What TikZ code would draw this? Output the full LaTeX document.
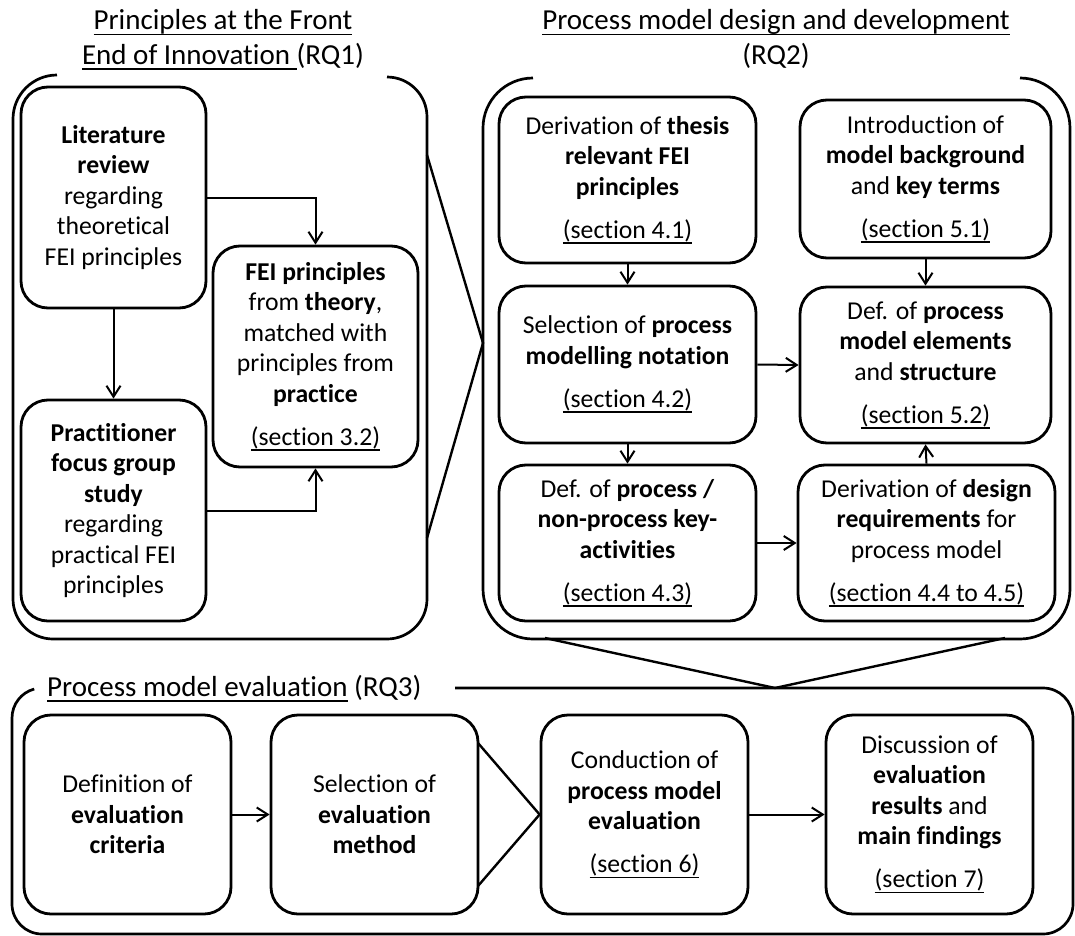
\documentclass[tikz,border=0pt]{standalone}
\usepackage{fontspec}
\setmainfont{Carlito}[Ligatures=NoCommon]
\usetikzlibrary{arrows.meta}
\newsavebox{\ulbox}
% underline drawn as a rule just below the baseline
\newcommand{\uln}[1]{\leavevmode\sbox{\ulbox}{#1}%
  \rlap{\raisebox{-5.5bp}{\rule{\wd\ulbox}{1.5bp}}}\usebox{\ulbox}}
\newcommand{\bxfont}{\fontsize{25.7bp}{30.5bp}\selectfont}
\newcommand{\ttlfont}{\fontsize{29bp}{34.5bp}\selectfont}
\newcommand{\secgap}{\\[12.5bp]}

\begin{document}
\begin{tikzpicture}[x=1bp,y=-1bp,
  box/.style={draw, line width=2.8bp, rounded corners=27bp, align=center,
    inner sep=0pt, font=\bxfont},
  ttl/.style={align=center, inner sep=0pt, font=\ttlfont},
  frame/.style={line width=2.7bp},
  zoomline/.style={line width=2.4bp, line join=miter},
  arr/.style={line width=2bp, -{Straight Barb[length=11bp,width=14bp]}}]

\useasboundingbox (0,0) rectangle (1075,936);

% ---------- RQ1: principles ----------
\node[ttl, anchor=base] (t1) at (223,64)
  {\uln{Principles at the Front}\\\uln{End of Innovation\ }(RQ1)};
\draw[frame] (57,75) arc[start angle=90,end angle=180,radius=44bp]
  -- (13,599) arc[start angle=180,end angle=270,radius=40bp]
  -- (387,639) arc[start angle=270,end angle=360,radius=40bp]
  -- (427,117) arc[start angle=0,end angle=90,radius=40bp];

\node[box, minimum width=185bp, minimum height=221bp] (lit) at (113.5,197.5)
  {\textbf{Literature}\\\textbf{review}\\regarding\\theoretical\\FEI principles};
\node[box, minimum width=205bp, minimum height=221bp] (fei) at (315.5,356.5)
  {\textbf{FEI principles}\\from \textbf{theory},\\matched with\\principles from\\\textbf{practice}\secgap\uln{(section 3.2)}};
\node[box, minimum width=185bp, minimum height=221bp] (prac) at (113.5,510.5)
  {\textbf{Practitioner}\\\textbf{focus group}\\\textbf{study}\\regarding\\practical FEI\\principles};

\draw[arr] (lit.east) -| (fei.north);
\draw[arr] (prac.east) -| (fei.south);
\draw[arr] (lit.south) -- (prac.north);

% ---------- RQ2: design and development ----------
\node[ttl, anchor=base] (t2) at (776,64)
  {\uln{Process model design and development}\\(RQ2)};
\draw[frame] (533,78) arc[start angle=90,end angle=180,radius=50bp]
  -- (483,589) arc[start angle=180,end angle=270,radius=50bp]
  -- (1020,639) arc[start angle=270,end angle=360,radius=50bp]
  -- (1070,128) arc[start angle=0,end angle=90,radius=50bp];

\node[box, minimum width=257bp, minimum height=166bp] (d41) at (627.5,180)
  {Derivation of \textbf{thesis}\\\textbf{relevant FEI}\\\textbf{principles}\secgap\uln{(section 4.1)}};
\node[box, minimum width=251bp, minimum height=158bp] (i51) at (925.5,179)
  {Introduction of\\\textbf{model background}\\and \textbf{key terms}\secgap\uln{(section 5.1)}};
\node[box, minimum width=257bp, minimum height=157bp] (s42) at (627.5,364.5)
  {Selection of \textbf{process}\\\textbf{modelling notation}\secgap\uln{(section 4.2)}};
\node[box, minimum width=251bp, minimum height=156bp] (d52) at (925.5,365)
  {Def. of \textbf{process}\\\textbf{model elements}\\and \textbf{structure}\secgap\uln{(section 5.2)}};
\node[box, minimum width=257bp, minimum height=156bp] (d43) at (627.5,543)
  {Def. of \textbf{process /}\\\textbf{non-process key-}\\\textbf{activities}\secgap\uln{(section 4.3)}};
\node[box, minimum width=257bp, minimum height=156bp] (d45) at (926.5,543)
  {Derivation of \textbf{design}\\\textbf{requirements} for\\process model\secgap\uln{(section 4.4 to 4.5)}};

\draw[arr] (d41.south) -- (s42.north);
\draw[arr] (i51.south) -- (d52.north);
\draw[arr] (s42.south) -- (d43.north);
\draw[arr] (d45.north) -- (d52.south);
\draw[arr] (s42.east) -- (d52.west);
\draw[arr] (d43.east) -- (d45.west);

% zoom lines from RQ1 into RQ2
\coordinate (z1a) at (427,155);
\coordinate (z1b) at (483,343);
\coordinate (z1c) at (427,538);
\draw[zoomline] (z1a) -- (z1b) -- (z1c);

% ---------- RQ3: evaluation ----------
\node[ttl, anchor=base west] (t3) at (47,696)
  {\uln{Process model evaluation} (RQ3)};
\draw[frame] (455,688) -- (1043,688) arc[start angle=90,end angle=0,radius=30bp]
  -- (1073,904) arc[start angle=0,end angle=-90,radius=30bp]
  -- (42,934) arc[start angle=270,end angle=180,radius=30bp]
  -- (12,718) arc[start angle=180,end angle=105,radius=30bp];

% zoom lines from RQ2 into RQ3
\coordinate (z2a) at (545,638);
\coordinate (z2b) at (775,688);
\coordinate (z2c) at (1005,638);
\draw[zoomline] (z2a) -- (z2b) -- (z2c);

\node[box, minimum width=207bp, minimum height=199bp] (ec) at (127.5,814.5)
  {Definition of\\\textbf{evaluation}\\\textbf{criteria}};
\node[box, minimum width=207bp, minimum height=199bp] (em) at (374.5,814.5)
  {Selection of\\\textbf{evaluation}\\\textbf{method}};
\node[box, minimum width=207bp, minimum height=199bp] (cp) at (644.5,814.5)
  {Conduction of\\\textbf{process model}\\\textbf{evaluation}\secgap\uln{(section 6)}};
\node[box, minimum width=207bp, minimum height=199bp] (dr) at (929.5,814.5)
  {Discussion of\\\textbf{evaluation}\\\textbf{results} and\\\textbf{main findings}\secgap\uln{(section 7)}};

\draw[arr] (ec.east) -- (em.west);
\draw[arr] (cp.east) -- (dr.west);

% zoom lines from the method box into the conduction box
\coordinate (z3a) at (478,743);
\coordinate (z3c) at (478,886);
\draw[zoomline] (z3a) -- (cp.west) -- (z3c);
\end{tikzpicture}
\end{document}
